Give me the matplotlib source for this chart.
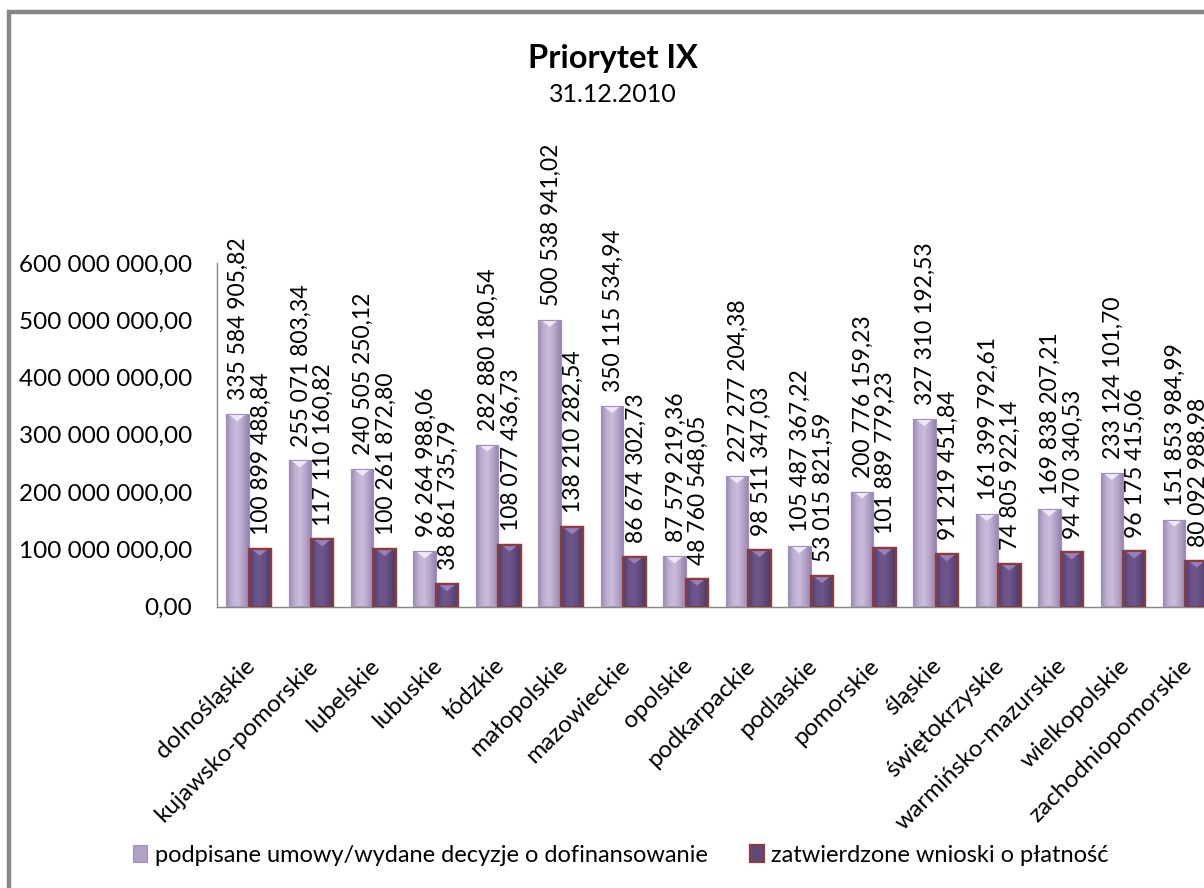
import numpy as np
import matplotlib
matplotlib.use("Agg")
import matplotlib.pyplot as plt
from matplotlib.patches import Rectangle, Polygon, Patch
from matplotlib.ticker import FuncFormatter, FixedLocator
import matplotlib.transforms as mtransforms
from matplotlib.colors import LinearSegmentedColormap

plt.rcParams['font.family'] = ['Lato', 'DejaVu Sans']

title = "Priorytet IX"
subtitle = "31.12.2010"
categories = ['dolnośląskie', 'kujawsko-pomorskie', 'lubelskie', 'lubuskie', 'łódzkie',
              'małopolskie', 'mazowieckie', 'opolskie', 'podkarpackie', 'podlaskie',
              'pomorskie', 'śląskie', 'świętokrzyskie', 'warmińsko-mazurskie',
              'wielkopolskie', 'zachodniopomorskie']
series_names = ['podpisane umowy/wydane decyzje o dofinansowanie',
                'zatwierdzone wnioski o płatność']
signed = [335584905.82, 255071803.34, 240505250.12, 96264988.06, 282880180.54,
          500538941.02, 350115534.94, 87579219.36, 227277204.38, 105487367.22,
          200776159.23, 327310192.53, 161399792.61, 169838207.21, 233124101.70,
          151853984.99]
approved = [100899488.84, 117110160.82, 100261872.80, 38861735.79, 108077436.73,
            138210282.54, 86674302.73, 48760548.05, 98511347.03, 53015821.59,
            101889779.23, 91219451.84, 74805922.14, 94470340.53, 96175415.06,
            80092988.98]
y_ticks = [0, 100e6, 200e6, 300e6, 400e6, 500e6, 600e6]


def pl_fmt(v):
    s = f"{v:,.2f}"
    return s.replace(',', ' ').replace('.', ',')


W, H = 1204, 888
fig = plt.figure(figsize=(W / 100, H / 100), dpi=100)
ax_left, ax_right, ax_bottom, ax_top = 217.3, 1216.7, 606.5, 263.0
ax = fig.add_axes([ax_left / W, 1 - ax_bottom / H, (ax_right - ax_left) / W,
                   (ax_bottom - ax_top) / H])

n = len(categories)
x = np.arange(n)
bw = 0.36
light_base = '#B3A2C7'
dark_base = '#5F497A'
bars1 = ax.bar(x - bw / 2, signed, width=bw, color=light_base, edgecolor='#A08FB8',
               linewidth=0.8, zorder=2)
bars2 = ax.bar(x + bw / 2, approved, width=bw, color=dark_base, edgecolor='#8E3B3B',
               linewidth=1.6, zorder=2)

ax.set_xlim(-0.5, n - 0.5)
ax.set_ylim(0, 600e6)

cmap_light = LinearSegmentedColormap.from_list('l', ['#9A88B4', '#BFB0D3', '#C9BCDB', '#B3A2C7', '#9683B0'])
cmap_dark = LinearSegmentedColormap.from_list('d', ['#4E3B66', '#6A5388', '#6E578C', '#5F497A', '#4A3861'])
grad = np.linspace(0, 1, 64).reshape(1, -1)
px_to_data = 600e6 / (ax_bottom - ax_top)
for bars, cm, topc in ((bars1, cmap_light, '#F4EEFA'), (bars2, cmap_dark, '#9D86C0')):
    for b in bars:
        x0, w, h = b.get_x(), b.get_width(), b.get_height()
        im = ax.imshow(grad, cmap=cm, extent=(x0, x0 + w, 0, h), aspect='auto',
                       zorder=2.5, interpolation='bilinear')
        im.set_clip_path(b)
        d = 7 * px_to_data
        tri = Polygon([(x0 + 0.12 * w, h), (x0 + 0.88 * w, h), (x0 + 0.5 * w, h - d)],
                      closed=True, facecolor=topc, edgecolor='none', alpha=0.9, zorder=2.7)
        ax.add_patch(tri)
        ax.add_patch(Rectangle((x0, 0), w, h, fill=False, edgecolor=b.get_edgecolor(),
                               linewidth=b.get_linewidth(), zorder=2.9))
ax.set_xlim(-0.5, n - 0.5)
ax.set_ylim(0, 600e6)

# data labels
for bars, vals in ((bars1, signed), (bars2, approved)):
    for b, v in zip(bars, vals):
        ax.annotate(pl_fmt(v), (b.get_x() + b.get_width() / 2, v), xytext=(1, 10),
                    textcoords='offset points', rotation=90, ha='center', va='bottom',
                    fontsize=16.5, color='black', zorder=4, annotation_clip=False)

# axes styling
for s in ('top', 'right'):
    ax.spines[s].set_visible(False)
for s in ('left', 'bottom'):
    ax.spines[s].set_color('#868686')
    ax.spines[s].set_linewidth(1.0)
ax.yaxis.set_major_locator(FixedLocator(y_ticks))
ax.yaxis.set_major_formatter(FuncFormatter(lambda v, p: pl_fmt(v)))
ax.tick_params(axis='y', length=0, pad=18, labelsize=17.5)
ax.set_xticks([])

trans = mtransforms.blended_transform_factory(ax.transData, ax.transAxes)
for i, c in enumerate(categories):
    t = mtransforms.offset_copy(trans, fig=fig, x=3, y=-56, units='dots')
    ax.text(i, 0, c, transform=t, rotation=45, rotation_mode='anchor',
            ha='right', va='center', fontsize=17.5, clip_on=False)

fig.text(613 / W, 1 - 68 / H, title, ha='center', va='baseline', fontsize=23.5,
         fontweight='bold')
fig.text(613 / W, 1 - 102 / H, subtitle, ha='center', va='baseline', fontsize=18)

handles = [Patch(facecolor=light_base, edgecolor='#A08FB8', linewidth=0.8),
           Patch(facecolor=dark_base, edgecolor='#8E3B3B', linewidth=1.6)]
fig.legend(handles, series_names, loc='center', bbox_to_anchor=(621 / W, 1 - 855 / H),
           ncol=2, frameon=False, fontsize=17, handlelength=0.6, handleheight=0.7,
           handletextpad=0.3, columnspacing=1.8)

fig.add_artist(Rectangle((9 / W, -0.1), 2.0, (H - 12) / H + 0.1, transform=fig.transFigure,
                         fill=False, edgecolor='#868686', linewidth=3.2))

fig.savefig('out.png', dpi=100)
